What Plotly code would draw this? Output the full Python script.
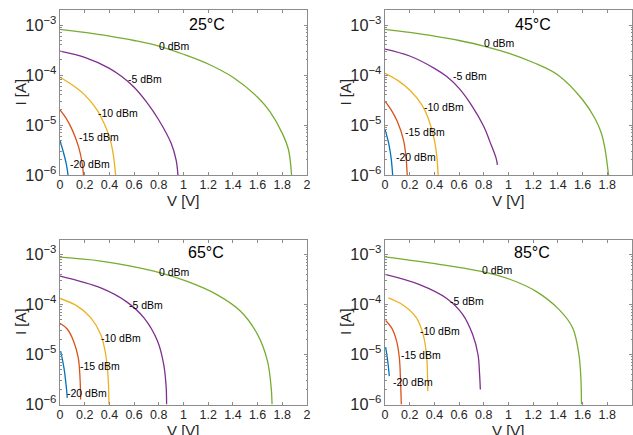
import numpy as np
import plotly.graph_objects as go

# ---------------- data (V in volts, I in amperes) ----------------
temps = ["25°C", "45°C", "65°C", "85°C"]
powers = ["0 dBm", "-5 dBm", "-10 dBm", "-15 dBm", "-20 dBm"]

# 25 °C
v25_p0 = [0, 0.2, 0.4, 0.6, 0.8, 1.0, 1.2, 1.4, 1.6, 1.7, 1.8, 1.85, 1.875]
i25_p0 = [8.2e-4, 7.1e-4, 6.0e-4, 4.9e-4, 3.8e-4, 2.6e-4, 1.66e-4, 9.0e-5, 3.6e-5, 1.85e-5, 6.8e-6, 3.2e-6, 1.0e-6]
v25_m5 = [0, 0.2, 0.4, 0.5, 0.6, 0.7, 0.8, 0.9, 0.94, 0.955]
i25_m5 = [3.0e-4, 2.25e-4, 1.36e-4, 9.3e-5, 5.7e-5, 2.9e-5, 1.26e-5, 4.3e-6, 2.0e-6, 1.0e-6]
v25_m10 = [0, 0.1, 0.2, 0.3, 0.35, 0.4, 0.43, 0.45]
i25_m10 = [9.0e-5, 6.3e-5, 4.0e-5, 2.0e-5, 1.17e-5, 5.8e-6, 2.7e-6, 1.0e-6]
v25_m15 = [0, 0.05, 0.1, 0.15, 0.18, 0.19]
i25_m15 = [2.0e-5, 1.36e-5, 7.9e-6, 3.7e-6, 1.7e-6, 1.0e-6]
v25_m20 = [0, 0.03, 0.05, 0.065]
i25_m20 = [4.9e-6, 2.7e-6, 1.7e-6, 1.0e-6]

# 45 °C
v45_p0 = [0, 0.2, 0.4, 0.6, 0.8, 1.0, 1.2, 1.4, 1.6, 1.7, 1.75, 1.78, 1.81]
i45_p0 = [8.2e-4, 7.1e-4, 6.0e-4, 4.9e-4, 3.8e-4, 2.75e-4, 1.78e-4, 1.0e-4, 3.2e-5, 1.35e-5, 7.1e-6, 3.5e-6, 1.0e-6]
v45_m5 = [0, 0.2, 0.4, 0.5, 0.6, 0.7, 0.8, 0.85, 0.9, 0.91]
i45_m5 = [3.3e-4, 2.4e-4, 1.36e-4, 9.3e-5, 5.4e-5, 2.5e-5, 9.3e-6, 4.6e-6, 2.15e-6, 1.6e-6]
v45_m10 = [0, 0.1, 0.2, 0.3, 0.35, 0.4, 0.42, 0.43]
i45_m10 = [1.08e-4, 7.9e-5, 5.0e-5, 2.5e-5, 1.36e-5, 5.0e-6, 2.3e-6, 1.0e-6]
v45_m15 = [0, 0.05, 0.1, 0.15, 0.17, 0.18]
i45_m15 = [3.0e-5, 2.0e-5, 1.17e-5, 5.0e-6, 2.3e-6, 1.0e-6]
v45_m20 = [0, 0.03, 0.05, 0.062]
i45_m20 = [8.2e-6, 4.3e-6, 2.15e-6, 1.0e-6]

# 65 °C
v65_p0 = [0, 0.33, 0.76, 1.03, 1.27, 1.46, 1.6, 1.68, 1.71, 1.717]
i65_p0 = [8.85e-4, 7.4e-4, 4.65e-4, 2.9e-4, 1.58e-4, 7.4e-5, 2.5e-5, 7.4e-6, 2.15e-6, 1.0e-6]
v65_m5 = [0, 0.33, 0.54, 0.68, 0.79, 0.84, 0.86, 0.863]
i65_m5 = [3.7e-4, 2.15e-4, 1.13e-4, 5.4e-5, 1.85e-5, 6.3e-6, 2.15e-6, 1.0e-6]
v65_m10 = [0, 0.14, 0.25, 0.33, 0.37, 0.39, 0.396]
i65_m10 = [1.32e-4, 9.3e-5, 5.4e-5, 2.5e-5, 1.0e-5, 3.4e-6, 1.0e-6]
v65_m15 = [0, 0.06, 0.11, 0.148, 0.162, 0.167]
i65_m15 = [4.2e-5, 3.2e-5, 1.85e-5, 8.6e-6, 3.4e-6, 1.26e-6]
v65_m20 = [0.005, 0.032, 0.049, 0.059]
i65_m20 = [1.17e-5, 5.4e-6, 2.5e-6, 1.36e-6]

# 85 °C
v85_p0 = [0, 0.36, 0.77, 1.01, 1.22, 1.41, 1.52, 1.57, 1.586, 1.591]
i85_p0 = [9.0e-4, 6.8e-4, 4.65e-4, 3.2e-4, 1.85e-4, 7.9e-5, 3.4e-5, 1.0e-5, 3.4e-6, 1.0e-6]
v85_m5 = [0, 0.28, 0.5, 0.63, 0.71, 0.753, 0.766, 0.772]
i85_m5 = [4.0e-4, 2.5e-4, 1.32e-4, 6.3e-5, 2.5e-5, 1.0e-5, 4.0e-6, 2.0e-6]
v85_m10 = [0.027, 0.148, 0.255, 0.309, 0.336, 0.344, 0.347]
i85_m10 = [1.36e-4, 9.7e-5, 5.4e-5, 2.5e-5, 1.0e-5, 4.0e-6, 1.85e-6]
v85_m15 = [0.005, 0.054, 0.094, 0.116, 0.126, 0.132]
i85_m15 = [4.8e-5, 3.4e-5, 1.85e-5, 8.6e-6, 2.9e-6, 1.0e-6]
v85_m20 = [0.005, 0.022, 0.035]
i85_m20 = [1.4e-5, 7.4e-6, 3.7e-6]

# inline label anchor points (V, I) per panel, order matches `powers`
lab25 = [(0.789, 3.86e-4), (0.532, 8.2e-5), (0.289, 1.77e-5), (0.135, 5.66e-6), (0.068, 1.66e-6)]
lab45 = [(0.786, 4.3e-4), (0.538, 9.5e-5), (0.296, 2.33e-5), (0.143, 7.36e-6), (0.073, 2.25e-6)]
lab65 = [(0.787, 4.5e-4), (0.539, 1.0e-4), (0.318, 2.15e-5), (0.146, 5.85e-6), (0.038, 1.66e-6)]
lab85 = [(0.772, 5.0e-4), (0.511, 1.17e-4), (0.269, 3.0e-5), (0.116, 9.7e-6), (0.046, 2.84e-6)]
title_pos = [(1.027, 1.0e-3), (1.036, 1.0e-3), (1.024, 1.08e-3), (1.03, 1.08e-3)]

colors = ["#77AC30", "#7E2F8E", "#EDB120", "#D95319", "#0072BD"]

panels = [
    [(v25_p0, i25_p0), (v25_m5, i25_m5), (v25_m10, i25_m10), (v25_m15, i25_m15), (v25_m20, i25_m20)],
    [(v45_p0, i45_p0), (v45_m5, i45_m5), (v45_m10, i45_m10), (v45_m15, i45_m15), (v45_m20, i45_m20)],
    [(v65_p0, i65_p0), (v65_m5, i65_m5), (v65_m10, i65_m10), (v65_m15, i65_m15), (v65_m20, i65_m20)],
    [(v85_p0, i85_p0), (v85_m5, i85_m5), (v85_m10, i85_m10), (v85_m15, i85_m15), (v85_m20, i85_m20)],
]
labels = [lab25, lab45, lab65, lab85]

# ---------------- layout geometry ----------------
W, H = 633, 435
xdoms = [[60 / W, 307 / W], [385 / W, 632 / W]]
ydoms = [[(H - 175) / H, (H - 10) / H], [(H - 404.5) / H, (H - 239.5) / H]]

FONT = "Liberation Sans, Arial, Helvetica, sans-serif"
TXT = "#262626"
AX = "#8c8c8c"

fig = go.Figure()
layout = dict(
    width=W, height=H, margin=dict(l=0, r=0, t=0, b=0),
    paper_bgcolor="white", plot_bgcolor="white", showlegend=False,
    template="none", font=dict(family=FONT, color=TXT),
)
annotations = []

for k in range(4):
    row, col = divmod(k, 2)
    sfx = "" if k == 0 else str(k + 1)
    xa, ya = "x" + sfx, "y" + sfx
    for j, (vv, ii) in enumerate(panels[k]):
        fig.add_trace(go.Scatter(
            x=vv, y=ii, mode="lines", xaxis=xa, yaxis=ya,
            line=dict(color=colors[j], width=1.3, shape="spline", smoothing=1.0),
            hoverinfo="skip"))
    layout["xaxis" + sfx] = dict(
        domain=xdoms[col], anchor=ya, range=[0, 2], tick0=0, dtick=0.2,
        ticks="inside", ticklen=3, tickcolor=AX, showline=True, linecolor=AX,
        linewidth=1, mirror="ticks", showgrid=False, zeroline=False,
        ticklabelstandoff=-2,
        automargin=False, tickfont=dict(family=FONT, size=12.5, color=TXT))
    layout["yaxis" + sfx] = dict(
        domain=ydoms[row], anchor=xa, type="log", range=[-6, -2.7], dtick=1,
        exponentformat="power", showexponent="all",
        ticks="inside", ticklen=3, tickcolor=AX, showline=True, linecolor=AX,
        linewidth=1, mirror="ticks", showgrid=False, zeroline=False,
        minor=dict(ticks="inside", ticklen=1.5, tickcolor=AX, showgrid=False),
        automargin=False, tickfont=dict(family=FONT, size=13, color=TXT))
    # inline curve labels
    for j, (lx, ly) in enumerate(labels[k]):
        annotations.append(dict(
            x=lx, y=np.log10(ly), xref=xa, yref=ya, text=powers[j],
            showarrow=False, xanchor="left", yanchor="middle",
            font=dict(family=FONT, size=10.5, color="#000000")))
    tx, ty = title_pos[k]
    annotations.append(dict(
        x=tx, y=np.log10(ty), xref=xa, yref=ya, text=temps[k],
        showarrow=False, xanchor="left", yanchor="middle",
        font=dict(family=FONT, size=16, color="#000000")))
    # axis titles
    x0, x1 = xdoms[col]
    y0, y1 = ydoms[row]
    annotations.append(dict(
        x=(x0 + x1) / 2, y=y0 - 26 / H, xref="paper", yref="paper",
        text="V [V]", showarrow=False, xanchor="center", yanchor="middle",
        font=dict(family=FONT, size=15, color=TXT)))
    annotations.append(dict(
        x=x0 - 40 / W, y=(y0 + y1) / 2, xref="paper", yref="paper",
        text="I [A]", showarrow=False, xanchor="center", yanchor="middle",
        textangle=-90, font=dict(family=FONT, size=15, color=TXT)))

layout["annotations"] = annotations
fig.update_layout(**layout)
fig.write_html("out.html")
